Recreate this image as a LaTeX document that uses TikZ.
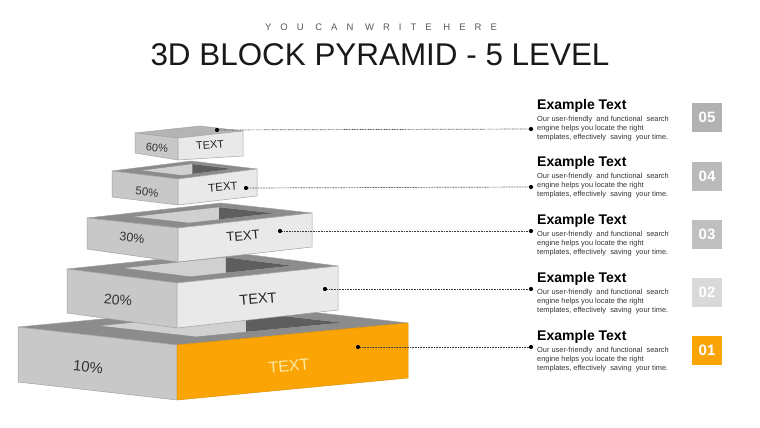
\documentclass[tikz,border=0pt]{standalone}
\usepackage{fontspec}
\setmainfont{Liberation Sans}
\newfontfamily\spacedfont[LetterSpace=95]{Liberation Sans}
\usetikzlibrary{calc}
\definecolor{leftc}{HTML}{C8C8C8}
\definecolor{rightc}{HTML}{E9E9E9}
\definecolor{topc}{HTML}{8C8C8C}
\definecolor{toplast}{HTML}{B4B4B4}
\definecolor{holec}{HTML}{D0D0D0}
\definecolor{wallc}{HTML}{5E5E5E}
\definecolor{edgec}{HTML}{A2A2A2}
\definecolor{orangec}{HTML}{FBA405}
\definecolor{orangeedge}{HTML}{E09000}
\definecolor{dotc}{HTML}{3A3A3A}
\definecolor{yelltxt}{HTML}{FFE9A6}
\newcommand\fsz[1]{\fontsize{#1}{#1}\selectfont}
\newcommand\levelblock[3]{% #1 id, #2 right face fill, #3 right face edge
  \coordinate (B#1) at ($(L#1)+(R#1)-(F#1)$);
  \filldraw[face, fill=topc] (L#1)--(F#1)--(R#1)--(B#1)--cycle;
  \coordinate (HL#1) at ($(F#1)+0.8*(L#1)-0.8*(F#1)+0.22*(R#1)-0.22*(F#1)$);
  \coordinate (HF#1) at ($(F#1)+0.2*(L#1)-0.2*(F#1)+0.22*(R#1)-0.22*(F#1)$);
  \coordinate (HR#1) at ($(F#1)+0.2*(L#1)-0.2*(F#1)+0.85*(R#1)-0.85*(F#1)$);
  \coordinate (HB#1) at ($(F#1)+0.8*(L#1)-0.8*(F#1)+0.85*(R#1)-0.85*(F#1)$);
  \fill[holec] (HL#1)--(HF#1)--(HR#1)--(HB#1)--cycle;
  \begin{scope}
    \clip (HL#1)--(HF#1)--(HR#1)--(HB#1)--cycle;
    \fill[wallc] (HB#1)--(HR#1)--($(HR#1)+(0,80)$)--($(HB#1)+(0,80)$)--cycle;
  \end{scope}
  \filldraw[face, fill=leftc] (L#1)--(F#1)--(Fb#1)--(Lb#1)--cycle;
  \filldraw[face, fill=#2, draw=#3] (F#1)--(R#1)--(Rb#1)--(Fb#1)--cycle;
}
\tikzset{
  face/.style={draw=edgec, line width=0.5pt, line join=round},
  pct/.style={text=black!80, inner sep=0pt},
  blktext/.style={text=black!85, inner sep=0pt},
  bdot/.style={circle, fill=black, inner sep=0pt, minimum size=4.2pt},
  conn/.style={draw=dotc, line width=0.7pt, dash pattern=on 0.8pt off 0.8pt},
  headtxt/.style={anchor=west, inner sep=0pt, font=\bfseries\fsz{14}},
  bodytxt/.style={anchor=west, inner sep=0pt, font=\fsz{7.4}, text=black!80},
  numbox/.style={minimum width=30pt, minimum height=29pt, inner sep=0pt, text=white, font=\bfseries\fsz{15}},
}
\begin{document}
\begin{tikzpicture}[x=1pt,y=-1pt]
\path[use as bounding box] (0,0) rectangle (760,428);
\fill[white] (0,0) rectangle (760,428);

% titles
\node[inner sep=0pt, text=black!65] (sub) at (381,27) {\spacedfont\fsz{9.5}YOU CAN WRITE HERE};
\node[inner sep=0pt, text=black!90] (title) at (380,55) {\fsz{31.4}3D BLOCK PYRAMID - 5 LEVEL};

% level 1
\coordinate (L1) at (18,327); \coordinate (F1) at (177,345); \coordinate (R1) at (408,323);
\coordinate (Lb1) at (18,382); \coordinate (Fb1) at (177,400); \coordinate (Rb1) at (408,378);
\levelblock{1}{orangec}{orangeedge}
% level 2
\coordinate (L2) at (67,269); \coordinate (F2) at (177,283); \coordinate (R2) at (338,266);
\coordinate (Lb2) at (67,313); \coordinate (Fb2) at (177,328); \coordinate (Rb2) at (338,310);
\levelblock{2}{rightc}{edgec}
% level 3
\coordinate (L3) at (87,218); \coordinate (F3) at (178,228); \coordinate (R3) at (312,213);
\coordinate (Lb3) at (87,249); \coordinate (Fb3) at (178,262); \coordinate (Rb3) at (312,247);
\levelblock{3}{rightc}{edgec}
% level 4
\coordinate (L4) at (112,171); \coordinate (F4) at (178,179); \coordinate (R4) at (257,169);
\coordinate (Lb4) at (112,197); \coordinate (Fb4) at (178,205); \coordinate (Rb4) at (257,196);
\levelblock{4}{rightc}{edgec}
% level 5 (solid top)
\coordinate (L5) at (135,133); \coordinate (F5) at (178,138); \coordinate (R5) at (243,131);
\coordinate (Lb5) at (135,153); \coordinate (Fb5) at (178,160); \coordinate (Rb5) at (243,156);
\coordinate (B5) at ($(L5)+(R5)-(F5)$);
\filldraw[face, fill=toplast] (L5)--(F5)--(R5)--(B5)--cycle;
\filldraw[face, fill=leftc] (L5)--(F5)--(Fb5)--(Lb5)--cycle;
\filldraw[face, fill=rightc] (F5)--(R5)--(Rb5)--(Fb5)--cycle;

% block labels
\node[pct, rotate=-6, font=\fsz{15}] (p1) at (88,367) {10\%};
\node[inner sep=0pt, rotate=5, text=yelltxt, font=\fsz{16}] (t1) at (289,366) {TEXT};
\node[pct, rotate=-6, font=\fsz{14}] (p2) at (118,300) {20\%};
\node[blktext, rotate=5, font=\fsz{14.5}] (t2) at (258,299) {TEXT};
\node[pct, rotate=-6, font=\fsz{12.5}] (p3) at (132,238) {30\%};
\node[blktext, rotate=5, font=\fsz{13}] (t3) at (243,236) {TEXT};
\node[pct, rotate=-6, font=\fsz{11.5}] (p4) at (147,192) {50\%};
\node[blktext, rotate=5, font=\fsz{11.5}] (t4) at (223,187) {TEXT};
\node[pct, rotate=-6, font=\fsz{11}] (p5) at (157,148) {60\%};
\node[blktext, rotate=5, font=\fsz{11}] (t5) at (210,145) {TEXT};

% dots and connectors
\node[bdot] (d5) at (217,130) {};
\node[bdot] (d4) at (246,188) {};
\node[bdot] (d3) at (280,231) {};
\node[bdot] (d2) at (325,289) {};
\node[bdot] (d1) at (358,347) {};
\node[bdot] (r5) at (531,129) {};
\node[bdot] (r4) at (531,187) {};
\node[bdot] (r3) at (531,231) {};
\node[bdot] (r2) at (531,289) {};
\node[bdot] (r1) at (531,347) {};
\draw[conn] (d5) -- (r5);
\draw[conn] (d4) -- (r4);
\draw[conn] (d3) -- (r3);
\draw[conn] (d2) -- (r2);
\draw[conn] (d1) -- (r1);

% right texts
\foreach \k/\y in {5/106,4/163,3/221,2/279,1/337}{
  \node[headtxt] (h\k) at (537,\y) {Example Text};
  \node[bodytxt] (ba\k) at (537,\y+14) {Our user-friendly\ \ and functional\ \ search};
  \node[bodytxt] (bb\k) at (537,\y+23) {engine helps you locate the right};
  \node[bodytxt] (bc\k) at (537,\y+32) {templates, effectively\ \ saving\ \ your time.};
}

% number boxes
\node[numbox, fill=black!30] (n5) at (707,117) {05};
\node[numbox, fill=black!27] (n4) at (707,176) {04};
\node[numbox, fill=black!25] (n3) at (707,234) {03};
\node[numbox, fill=black!15] (n2) at (707,292) {02};
\node[numbox, fill=orangec] (n1) at (707,350) {01};
\end{tikzpicture}
\end{document}
